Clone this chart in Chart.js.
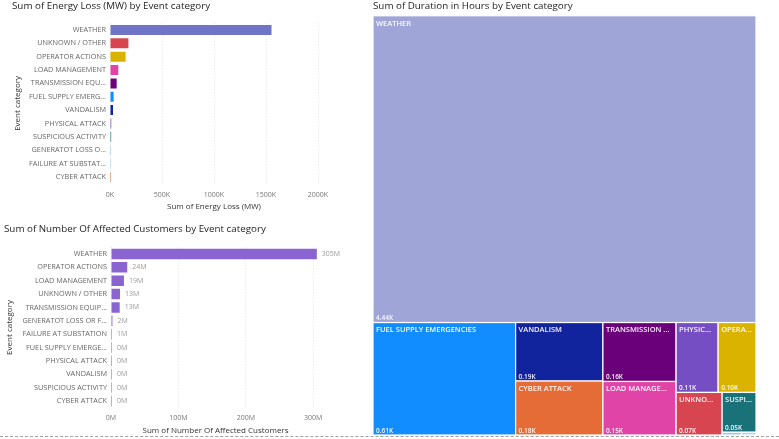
<!DOCTYPE html>
<html>
<head>
<meta charset="utf-8">
<script src="https://cdn.jsdelivr.net/npm/chart.js@4.4.1/dist/chart.umd.min.js"></script>
<style>
  html, body { margin: 0; padding: 0; background: #fff; }
  body { width: 779px; height: 439px; position: relative; overflow: hidden; }
  .box { position: absolute; }
  #lossBox { left: 0; top: 0; width: 370px; height: 216px; }
  #custBox { left: 0; top: 222px; width: 370px; height: 217px; }
  #durBox { left: 370px; top: 0; width: 409px; height: 439px; }
  .dash { position: absolute; left: 0; top: 436px; width: 779px; border-top: 1px dashed #a0a0a0; }
</style>
</head>
<body>
<div class="box" id="lossBox"><canvas id="lossChart"></canvas></div>
<div class="box" id="custBox"><canvas id="custChart"></canvas></div>
<div class="box" id="durBox"><canvas id="durChart"></canvas></div>
<div class="dash"></div>
<script>
// data
const lossCategories = ["WEATHER", "UNKNOWN / OTHER", "OPERATOR ACTIONS", "LOAD MANAGEMENT", "TRANSMISSION EQUIPMENT", "FUEL SUPPLY EMERGENCIES", "VANDALISM", "PHYSICAL ATTACK", "SUSPICIOUS ACTIVITY", "GENERATOT LOSS OR FAILURE", "FAILURE AT SUBSTATION", "CYBER ATTACK"];
const lossValues = [1553000, 177000, 150000, 80000, 64000, 35000, 29000, 12000, 11000, 3000, 3000, 2000];
const lossTicks = [0, 500000, 1000000, 1500000, 2000000];

const customerCategories = ["WEATHER", "OPERATOR ACTIONS", "LOAD MANAGEMENT", "UNKNOWN / OTHER", "TRANSMISSION EQUIPMENT", "GENERATOT LOSS OR FAILURE", "FAILURE AT SUBSTATION", "FUEL SUPPLY EMERGENCIES", "PHYSICAL ATTACK", "VANDALISM", "SUSPICIOUS ACTIVITY", "CYBER ATTACK"];
const customerValues = [305300000, 24100000, 19200000, 13400000, 12900000, 2100000, 1200000, 300000, 200000, 100000, 50000, 20000];
const customerTicks = [0, 100000000, 200000000, 300000000];

const durationCategories = ["WEATHER", "FUEL SUPPLY EMERGENCIES", "VANDALISM", "CYBER ATTACK", "TRANSMISSION EQUIPMENT", "LOAD MANAGEMENT", "PHYSICAL ATTACK", "OPERATOR ACTIONS", "UNKNOWN / OTHER", "SUSPICIOUS ACTIVITY", "GENERATOT LOSS OR FAILURE", "FAILURE AT SUBSTATION"];
const durationHours = [4440, 606, 193, 178, 163, 148, 111, 100, 74, 51, 2, 1.5];

// colours
const categoryColors = {
  "WEATHER": "#6f74c6",
  "UNKNOWN / OTHER": "#d64550",
  "OPERATOR ACTIONS": "#d9b300",
  "LOAD MANAGEMENT": "#e044a7",
  "TRANSMISSION EQUIPMENT": "#6b007b",
  "FUEL SUPPLY EMERGENCIES": "#118dff",
  "VANDALISM": "#12239e",
  "PHYSICAL ATTACK": "#744ec2",
  "SUSPICIOUS ACTIVITY": "#197278",
  "GENERATOT LOSS OR FAILURE": "#8fc8f5",
  "FAILURE AT SUBSTATION": "#a9d6f7",
  "CYBER ATTACK": "#e66c37"
};
const treemapWeather = "#a0a5d8";
const customerBarColor = "#8a64d0";

Chart.defaults.font.family = "'Open Sans', sans-serif";
Chart.defaults.color = "#666";

const titleFont = { size: 9.8, weight: "normal" };
const tickFont = { size: 7 };
const catFont = { size: 7.3 };
const axisTitleFont = { size: 8 };

// label truncation like the report does
const measureCtx = document.createElement("canvas").getContext("2d");
function fitLabel(text, font, maxWidth) {
  measureCtx.font = font;
  if (measureCtx.measureText(text).width <= maxWidth) return text;
  let s = text;
  while (s.length > 1 && measureCtx.measureText(s + "...").width > maxWidth) {
    s = s.slice(0, -1);
  }
  return s + "...";
}

// energy loss
new Chart(document.getElementById("lossChart"), {
  type: "bar",
  data: {
    labels: lossCategories,
    datasets: [{
      data: lossValues,
      backgroundColor: lossCategories.map((c) => categoryColors[c]),
      barPercentage: 0.75,
      categoryPercentage: 1,
      minBarLength: 1
    }]
  },
  options: {
    indexAxis: "y",
    animation: false,
    responsive: true,
    maintainAspectRatio: false,
    layout: { padding: { left: 12, right: 52, top: 0, bottom: 0 } },
    scales: {
      x: {
        min: 0,
        max: 2000000,
        afterBuildTicks: (axis) => { axis.ticks = lossTicks.map((v) => ({ value: v })); },
        ticks: {
          font: tickFont, color: "#777", padding: 7, maxRotation: 0, autoSkip: false,
          callback: (v) => v / 1000 + "K"
        },
        grid: { color: "#e4e4e4", drawTicks: false },
        border: { display: false, dash: [1, 2] },
        title: { display: true, text: "Sum of Energy Loss (MW)", font: axisTitleFont, color: "#333", padding: { top: -3.6, bottom: 4 } }
      },
      y: {
        afterFit: (scale) => { scale.width = 98; },
        ticks: {
          font: catFont, color: "#666", padding: 4, autoSkip: false,
          callback: function (value) { return fitLabel(this.getLabelForValue(value), "7.3px 'Open Sans'", 77); }
        },
        grid: { display: false, drawTicks: false },
        border: { display: false },
        title: { display: true, text: "Event category", font: axisTitleFont, color: "#333", padding: { top: 1, bottom: 0 } }
      }
    },
    plugins: {
      legend: { display: false },
      tooltip: { enabled: false },
      title: { display: true, text: "Sum of Energy Loss (MW) by Event category", align: "start", color: "#252423", font: titleFont, padding: { top: 0, bottom: 11.5 } }
    }
  }
});

// affected customers
const barValueLabels = {
  id: "barValueLabels",
  afterDatasetsDraw(chart) {
    const ctx = chart.ctx;
    const meta = chart.getDatasetMeta(0);
    const values = chart.data.datasets[0].data;
    ctx.save();
    ctx.font = "7px 'Open Sans'";
    ctx.fillStyle = "#9a9a9a";
    ctx.textBaseline = "middle";
    meta.data.forEach((bar, i) => {
      ctx.fillText(Math.round(values[i] / 1000000) + "M", bar.x + 5, bar.y);
    });
    ctx.restore();
  }
};

new Chart(document.getElementById("custChart"), {
  type: "bar",
  data: {
    labels: customerCategories,
    datasets: [{
      data: customerValues,
      backgroundColor: customerBarColor,
      barPercentage: 0.78,
      categoryPercentage: 1,
      minBarLength: 1
    }]
  },
  options: {
    indexAxis: "y",
    animation: false,
    responsive: true,
    maintainAspectRatio: false,
    layout: { padding: { left: 4, right: 50, top: 1, bottom: 0 } },
    scales: {
      x: {
        min: 0,
        max: 310000000,
        afterBuildTicks: (axis) => { axis.ticks = customerTicks.map((v) => ({ value: v })); },
        ticks: {
          font: tickFont, color: "#777", padding: 6.5, maxRotation: 0, autoSkip: false,
          callback: (v) => v / 1000000 + "M"
        },
        grid: { color: "#e4e4e4", drawTicks: false },
        border: { display: false, dash: [1, 2] },
        title: { display: true, text: "Sum of Number Of Affected Customers", font: axisTitleFont, color: "#333", padding: { top: -2.7, bottom: 3 } }
      },
      y: {
        afterFit: (scale) => { scale.width = 107; },
        ticks: {
          font: catFont, color: "#666", padding: 4, autoSkip: false,
          callback: function (value) { return fitLabel(this.getLabelForValue(value), "7.3px 'Open Sans'", 85); }
        },
        grid: { display: false, drawTicks: false },
        border: { display: false },
        title: { display: true, text: "Event category", font: axisTitleFont, color: "#333", padding: { top: 1, bottom: 0 } }
      }
    },
    plugins: {
      legend: { display: false },
      tooltip: { enabled: false },
      title: { display: true, text: "Sum of Number Of Affected Customers by Event category", align: "start", color: "#252423", font: titleFont, padding: { top: 0, bottom: 12.5 } }
    }
  },
  plugins: [barValueLabels]
});

// duration treemap (squarified layout on the chart's own scales)
function worst(row, side) {
  const s = row.reduce((a, b) => a + b, 0);
  const max = Math.max(...row);
  const min = Math.min(...row);
  return Math.max((side * side * max) / (s * s), (s * s) / (side * side * min));
}

function squarify(values, x, y, w, h) {
  const total = values.reduce((a, b) => a + b, 0);
  const areas = values.map((v) => (v / total) * w * h);
  const rects = [];
  let i = 0;
  while (i < areas.length) {
    const side = Math.min(w, h);
    const row = [areas[i]];
    let j = i + 1;
    while (j < areas.length && worst(row.concat(areas[j]), side) <= worst(row, side)) {
      row.push(areas[j]);
      j++;
    }
    const s = row.reduce((a, b) => a + b, 0);
    if (w >= h) {
      const cw = s / h;
      let yy = y;
      row.forEach((a) => { rects.push({ x: x, y: yy, w: cw, h: a / cw }); yy += a / cw; });
      x += cw; w -= cw;
    } else {
      const rh = s / w;
      let xx = x;
      row.forEach((a) => { rects.push({ x: xx, y: y, w: a / rh, h: rh }); xx += a / rh; });
      y += rh; h -= rh;
    }
    i = j;
  }
  return rects;
}

const treemapPlugin = {
  id: "treemap",
  afterDatasetsDraw(chart, args, opts) {
    const ctx = chart.ctx;
    const xs = chart.scales.x;
    const ys = chart.scales.y;
    const left = xs.getPixelForValue(0);
    const right = xs.getPixelForValue(1);
    const top = ys.getPixelForValue(0);
    const bottom = ys.getPixelForValue(1);
    const rects = squarify(opts.values, left, top, right - left, bottom - top);
    ctx.save();
    rects.forEach((r, i) => {
      const name = opts.labels[i];
      ctx.fillStyle = name === "WEATHER" ? treemapWeather : categoryColors[name];
      ctx.fillRect(r.x, r.y, r.w, r.h);
      ctx.strokeStyle = "#ffffff";
      ctx.lineWidth = 1.2;
      ctx.strokeRect(r.x, r.y, r.w, r.h);
      if (r.w < 20 || r.h < 20) return;
      ctx.fillStyle = "rgba(255,255,255,0.95)";
      ctx.textBaseline = "top";
      ctx.font = "600 7.5px 'Open Sans'";
      ctx.fillText(fitLabel(name, "600 7.5px 'Open Sans'", r.w - 7), r.x + 3, r.y + 4);
      ctx.textBaseline = "bottom";
      ctx.font = "600 6.5px 'Open Sans'";
      ctx.fillText((opts.values[i] / 1000).toFixed(2) + "K", r.x + 3, r.y + r.h - 1);
    });
    ctx.restore();
  }
};

new Chart(document.getElementById("durChart"), {
  type: "scatter",
  data: { datasets: [{ data: [] }] },
  options: {
    animation: false,
    responsive: true,
    maintainAspectRatio: false,
    layout: { padding: { left: 3, right: 23, top: 0, bottom: 4 } },
    scales: {
      x: { display: false, min: 0, max: 1 },
      y: { display: false, min: 0, max: 1, reverse: true }
    },
    plugins: {
      legend: { display: false },
      tooltip: { enabled: false },
      title: { display: true, text: "Sum of Duration in Hours by Event category", align: "start", color: "#252423", font: titleFont, padding: { top: 0, bottom: 4 } },
      treemap: { labels: durationCategories, values: durationHours }
    }
  },
  plugins: [treemapPlugin]
});
</script>
</body>
</html>
